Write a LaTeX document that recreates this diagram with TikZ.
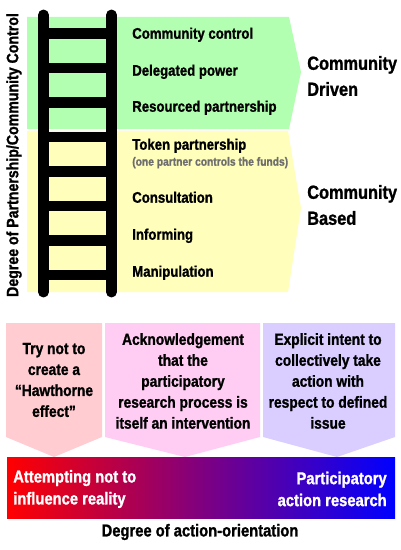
\documentclass[tikz,border=0pt]{standalone}
\usepackage{fontspec}
\setmainfont{Liberation Sans}[FakeStretch=0.86, BoldFeatures={FakeBold=1.2}]
\usepackage{tikz}
\usetikzlibrary{positioning}
\definecolor{drivengreen}{RGB}{178,255,178}
\definecolor{basedyellow}{RGB}{255,255,187}
\definecolor{hawpink}{RGB}{255,204,210}
\definecolor{ackpink}{RGB}{255,204,244}
\definecolor{parlav}{RGB}{217,206,255}
\definecolor{fundgray}{RGB}{110,110,110}

\begin{document}
\begin{tikzpicture}[x=0.025cm, y=-0.025cm,
    rung/.style={font=\fontsize{10.9}{13}\selectfont\bfseries, anchor=mid west, inner sep=0pt},
    side/.style={font=\fontsize{13.5}{18.5}\selectfont\bfseries, anchor=west, align=left, inner sep=0pt},
    boxtext/.style={font=\fontsize{11.4}{14.9}\selectfont\bfseries, align=center, inner sep=0pt},
    bartext/.style={font=\fontsize{12.2}{15.6}\selectfont\bfseries, text=white, inner sep=0pt}]
  \useasboundingbox (0,0) rectangle (400,550);
  % ladder background
  \fill[drivengreen] (27,17) -- (289,17) -- (301,72) -- (289,129) -- (27,129) -- cycle;
  \fill[basedyellow] (27,131) -- (288,131) -- (301,208) -- (288,292) -- (27,292) -- cycle;
  % ladder
  \draw[line width=7.8pt, line cap=round] (43.5,15) -- (43.5,292);
  \draw[line width=7.8pt, line cap=round] (111.5,15) -- (111.5,292);
  \foreach \k in {0,...,7}
    \draw[line width=7.8pt] (43.5,33.5+34.5*\k) -- (111.5,33.5+34.5*\k);
  \node[rung] (cc) at (132,35) {Community control};
  \node[rung] (dp) at (132,72) {Delegated power};
  \node[rung] (rp) at (132,108) {Resourced partnership};
  \node[rung] (tp) at (132,146) {Token partnership};
  \node[rung, font=\fontsize{8.5}{9}\selectfont\bfseries, text=fundgray] (funds) at (132,162) {(one partner controls the funds)};
  \node[rung] (cons) at (132,199) {Consultation};
  \node[rung] (inf) at (132,236) {Informing};
  \node[rung] (man) at (132,273) {Manipulation};
  \node[side] (driven) at (307,76) {Community\\Driven};
  \node[side] (based) at (307,205) {Community\\Based};
  \node[rung, anchor=center, rotate=90, font=\fontsize{11.7}{13}\selectfont\bfseries] (partner) at (14,155) {Degree of Partnership/Community Control};
  % action orientation
  \fill[hawpink] (6,323) -- (102,323) -- (102,437) -- (54,457) -- (6,437) -- cycle;
  \fill[ackpink] (105,323) -- (260,323) -- (260,437) -- (185,457) -- (105,437) -- cycle;
  \fill[parlav] (263,323) -- (395,323) -- (395,437) -- (337,457) -- (263,437) -- cycle;
  \node[boxtext] (haw) at (54,380) {Try not to\\create a\\``Hawthorne\\effect''};
  \node[boxtext] (ack) at (183,381) {Acknowledgement\\that the\\participatory\\research process is\\itself an intervention};
  \node[boxtext] (intent) at (328,381) {Explicit intent to\\collectively take\\action with\\respect to defined\\issue};
  \shade[left color=red, right color=blue] (7,457) rectangle (395,518);
  \node[bartext, anchor=west, align=left] (notinf) at (13,489) {Attempting not to\\influence reality};
  \node[bartext, anchor=east, align=right] (par) at (387,489) {Participatory\\action research};
  \node[rung, anchor=center, font=\fontsize{12.2}{14}\selectfont\bfseries] (actor) at (200,532) {Degree of action-orientation};
\end{tikzpicture}
\end{document}
